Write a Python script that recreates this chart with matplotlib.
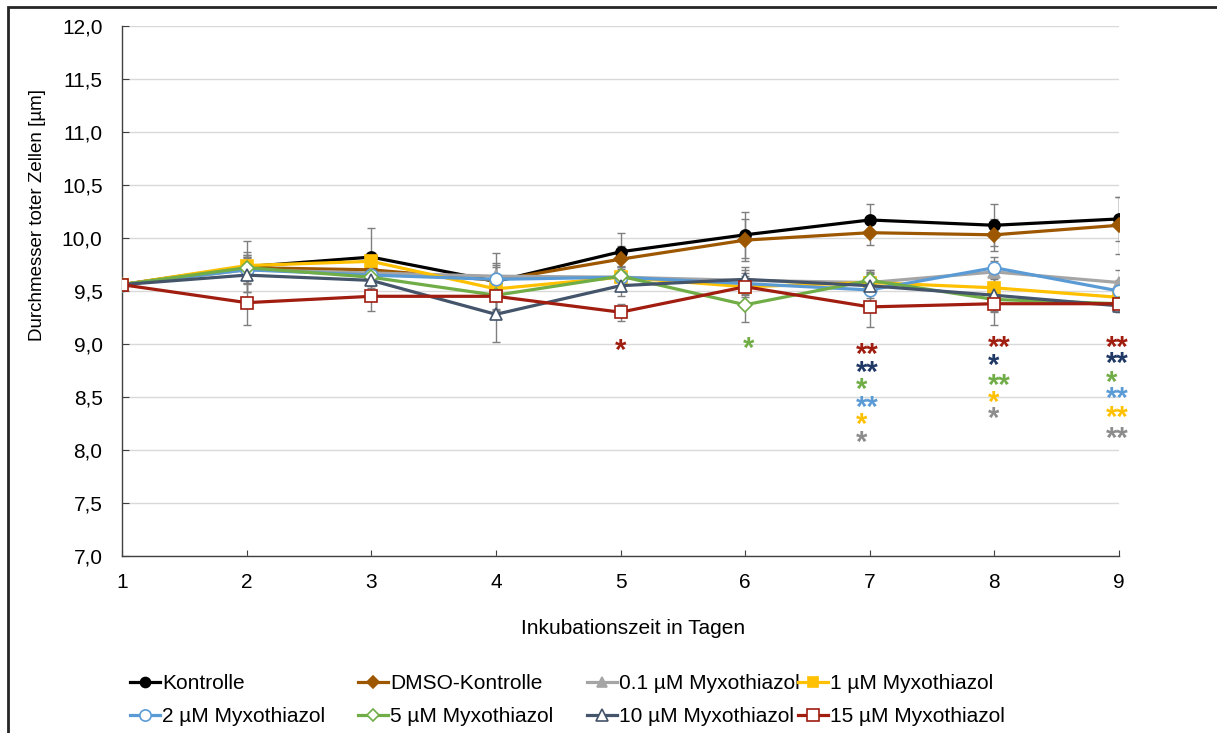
import matplotlib
matplotlib.use('Agg')
import matplotlib.pyplot as plt
from matplotlib.patches import Rectangle

plt.rcParams['font.family'] = ['Liberation Sans', 'DejaVu Sans']

days = [1, 2, 3, 4, 5, 6, 7, 8, 9]

# mean diameters per series
kontrolle = [9.56, 9.73, 9.82, 9.59, 9.87, 10.03, 10.17, 10.12, 10.18]
dmso = [9.56, 9.72, 9.70, 9.60, 9.80, 9.98, 10.05, 10.03, 10.12]
m01 = [9.56, 9.70, 9.67, 9.64, 9.63, 9.60, 9.58, 9.68, 9.58]
m1 = [9.56, 9.74, 9.78, 9.52, 9.63, 9.54, 9.58, 9.53, 9.44]
m2 = [9.56, 9.70, 9.65, 9.61, 9.63, 9.57, 9.51, 9.72, 9.50]
m5 = [9.56, 9.72, 9.63, 9.46, 9.64, 9.37, 9.60, 9.42, 9.38]
m10 = [9.56, 9.65, 9.60, 9.28, 9.55, 9.61, 9.55, 9.46, 9.36]
m15 = [9.56, 9.39, 9.45, 9.45, 9.30, 9.54, 9.35, 9.38, 9.38]

# standard deviations (estimated)
k_err = [0, 0.24, 0.27, 0.27, 0.18, 0.22, 0.15, 0.20, 0.21]
dmso_err = [0, 0.15, 0.12, 0.15, 0.12, 0.20, 0.12, 0.15, 0.27]
m01_err = [0, 0.12, 0.10, 0.12, 0.10, 0.10, 0.12, 0.10, 0.12]
m1_err = [0, 0.10, 0.08, 0.10, 0.10, 0.08, 0.10, 0.12, 0.10]
m2_err = [0, 0.12, 0.08, 0.12, 0.08, 0.10, 0.15, 0.10, 0.10]
m5_err = [0, 0.12, 0.10, 0.15, 0.10, 0.16, 0.10, 0.12, 0.08]
m10_err = [0, 0.16, 0.10, 0.26, 0.10, 0.12, 0.12, 0.15, 0.05]
m15_err = [0, 0.21, 0.14, 0.12, 0.08, 0.10, 0.19, 0.20, 0.08]

labels = ['Kontrolle', 'DMSO-Kontrolle', '0.1 µM Myxothiazol', '1 µM Myxothiazol',
          '2 µM Myxothiazol', '5 µM Myxothiazol', '10 µM Myxothiazol', '15 µM Myxothiazol']

c_red = '#A01D10'
c_navy = '#1F3864'
c_green = '#70AD47'
c_blue = '#5B9BD5'
c_yellow = '#FFC000'
c_gray = '#8C8C8C'

# significance marks: day, level, text, colour
star_day = [5, 6, 7, 7, 7, 7, 7, 7, 8, 8, 8, 8, 8, 9, 9, 9, 9, 9, 9]
star_y = [8.99, 9.01, 8.95, 8.78, 8.62, 8.45, 8.29, 8.12,
          9.02, 8.85, 8.66, 8.50, 8.35, 9.02, 8.87, 8.69, 8.54, 8.36, 8.16]
star_txt = ['*', '*', '**', '**', '*', '**', '*', '*',
            '**', '*', '**', '*', '*', '**', '**', '*', '**', '**', '**']
star_col = [c_red, c_green, c_red, c_navy, c_green, c_blue, c_yellow, c_gray,
            c_red, c_navy, c_green, c_yellow, c_gray,
            c_red, c_navy, c_green, c_blue, c_yellow, c_gray]

fig = plt.figure(figsize=(12.17, 7.33), dpi=100)
ax = fig.add_axes([122 / 1217, 1 - 556 / 733, (1119 - 122) / 1217, (556 - 26) / 733])

series = [
    (kontrolle, k_err, 'black', 'o', 'black', 'black', 8),
    (dmso, dmso_err, '#9C5700', 'D', '#9C5700', '#9C5700', 7),
    (m01, m01_err, '#A5A5A5', '^', '#A5A5A5', '#A5A5A5', 8),
    (m1, m1_err, c_yellow, 's', c_yellow, c_yellow, 8),
    (m2, m2_err, c_blue, 'o', 'white', c_blue, 9),
    (m5, m5_err, c_green, 'D', 'white', c_green, 7),
    (m10, m10_err, '#44546A', '^', 'white', '#44546A', 9),
    (m15, m15_err, c_red, 's', 'white', c_red, 9),
]

handles = []
for i, (vals, err, col, mk, fc, ec, ms) in enumerate(series):
    ax.errorbar(days, vals, yerr=err, fmt='none', ecolor='#7F7F7F', elinewidth=1,
                capsize=3, capthick=1, zorder=2 + i * 0.1)
    h, = ax.plot(days, vals, color=col, lw=2.3, marker=mk, markerfacecolor=fc,
                 markeredgecolor=ec, markeredgewidth=1.2, markersize=ms,
                 label=labels[i], zorder=3 + i * 0.1)
    handles.append(h)

for d, yv, t, c in zip(star_day, star_y, star_txt, star_col):
    dx = {5: 0, 6: 3, 7: -14, 8: -7, 9: -13}[d]
    ha = 'center' if d in (5, 6) else 'left'
    ax.annotate(t, xy=(d, yv), xytext=(dx * 0.72, -10), textcoords='offset points',
                ha=ha, va='baseline', color=c, fontsize=21, fontweight='bold',
                annotation_clip=False)

ax.set_xlim(1, 9)
ax.set_ylim(7, 12)
ax.set_xticks(days)
ax.set_yticks([7 + 0.5 * k for k in range(11)])
ax.set_yticklabels([('%.1f' % (7 + 0.5 * k)).replace('.', ',') for k in range(11)])
ax.grid(axis='y', color='#D9D9D9', lw=1)
ax.set_axisbelow(True)
for s in ['top', 'right']:
    ax.spines[s].set_visible(False)
for s in ['left', 'bottom']:
    ax.spines[s].set_color('#404040')
    ax.spines[s].set_linewidth(1)
ax.tick_params(axis='y', direction='in', length=5, pad=14, labelsize=15, color='#404040')
ax.tick_params(axis='x', direction='in', length=4, pad=12, labelsize=15, color='#404040')

fig.text(633 / 1217, 1 - 628 / 733, 'Inkubationszeit in Tagen', ha='center', va='center', fontsize=15)
fig.text(38 / 1217, 1 - 215 / 733, 'Durchmesser toter Zellen [µm]', ha='center', va='center',
         rotation=90, fontsize=13.5)

# legend: four columns, laid out like the Excel legend
col_x = [130, 358, 587, 798]
for j in range(4):
    fig.legend([handles[j], handles[j + 4]], [labels[j], labels[j + 4]],
               loc='upper left', bbox_to_anchor=(col_x[j] / 1217, 1 - 674 / 733),
               frameon=False, fontsize=15, handlelength=1.45, handletextpad=0.1,
               borderpad=0, borderaxespad=0, labelspacing=0.69, markerscale=0.9)

fig.add_artist(Rectangle((8 / 1217, -0.1), 1.2, 1 - 7 / 733 + 0.1, transform=fig.transFigure,
                         fill=False, lw=2, edgecolor='#262626'))

fig.savefig('out.png', dpi=100)
